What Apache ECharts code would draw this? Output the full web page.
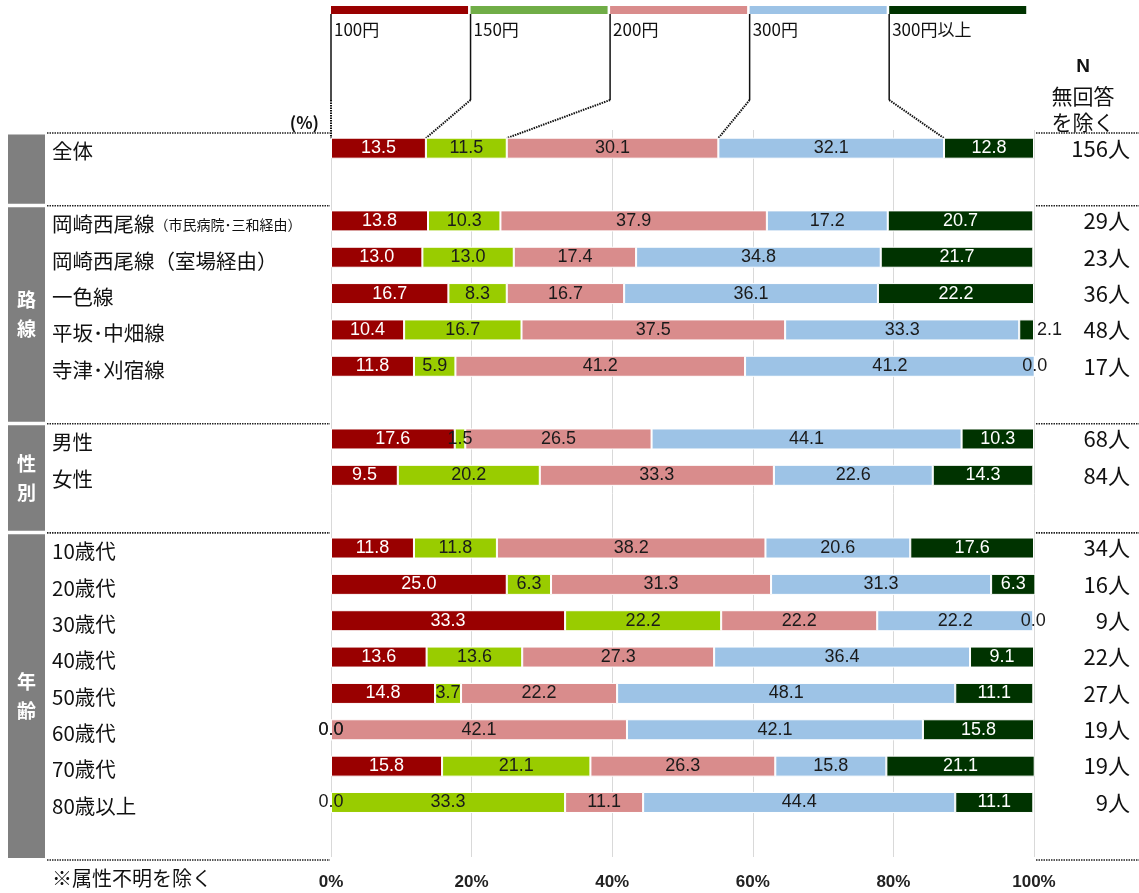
<!DOCTYPE html>
<html><head><meta charset="utf-8">
<script src="https://cdn.jsdelivr.net/npm/echarts@6/dist/echarts.min.js"></script>
<style>html,body{margin:0;padding:0;background:#fff}#c{width:1139px;height:893px}</style>
</head><body><div id="c"></div>
<script>
// ---- data ----
const categories = ['全体','','岡崎西尾線（市民病院･三和経由）','岡崎西尾線（室場経由）','一色線','平坂･中畑線','寺津･刈宿線','','男性','女性','','10歳代','20歳代','30歳代','40歳代','50歳代','60歳代','70歳代','80歳以上',''];
const nCounts = ['156人','','29人','23人','36人','48人','17人','','68人','84人','','34人','16人','9人','22人','27人','19人','19人','9人',''];
const seriesNames = ['100円','150円','200円','300円','300円以上'];
const v100  = [13.5,null,13.8,13.0,16.7,10.4,11.8,null,17.6, 9.5,null,11.8,25.0,33.3,13.6,14.8, 0.0,15.8, 0.0,null];
const v150  = [11.5,null,10.3,13.0, 8.3,16.7, 5.9,null, 1.5,20.2,null,11.8, 6.3,22.2,13.6, 3.7, 0.0,21.1,33.3,null];
const v200  = [30.1,null,37.9,17.4,16.7,37.5,41.2,null,26.5,33.3,null,38.2,31.3,22.2,27.3,22.2,42.1,26.3,11.1,null];
const v300  = [32.1,null,17.2,34.8,36.1,33.3,41.2,null,44.1,22.6,null,20.6,31.3,22.2,36.4,48.1,42.1,15.8,44.4,null];
const v300p = [12.8,null,20.7,21.7,22.2, 2.1, 0.0,null,10.3,14.3,null,17.6, 6.3, 0.0, 9.1,11.1,15.8,21.1,11.1,null];
const xTicks = [0,20,40,60,80,100];
const groups = [
  {name:'',     from:0,  to:2},
  {name:'路線', from:2,  to:8},
  {name:'性別', from:8,  to:11},
  {name:'年齢', from:11, to:20}
];
const seriesValues = [v100, v150, v200, v300, v300p];

// ---- style ----
const barColors    = ['#990000','#99CC00','#D98C8C','#9DC3E6','#003300'];
const legendColors = ['#990000','#70AD47','#D98C8C','#9DC3E6','#003300'];
const labelColors  = ['#ffffff','#1a1a1a','#1a1a1a','#1a1a1a','#ffffff'];
const dark = '#1a1a1a';
const JP = "'Noto Sans CJK JP', sans-serif";
const NUM = "'Liberation Sans', Arial, sans-serif";

const chart = echarts.init(document.getElementById('c'), null, {renderer:'canvas'});

function buildData(arr, si){
  return arr.map(v => {
    if (v == null) return '-';
    const d = {value: v};
    if (v === 0) d.label = {color: dark};
    else if (si === seriesNames.length - 1 && v < 3) d.label = {position:'right', color: dark, distance: 3};
    return d;
  });
}

const option = {
  backgroundColor:'#fff',
  animation:false,
  grid:{left:331, right:105, top:130, bottom:36, containLabel:false},
  xAxis:{
    type:'value', min:xTicks[0], max:xTicks[xTicks.length-1], interval:xTicks[1]-xTicks[0],
    axisLine:{show:false}, axisTick:{show:false},
    splitLine:{show:true, lineStyle:{color:'#d9d9d9', width:1}},
    axisLabel:{formatter: v => v + '%', fontFamily: NUM, fontWeight:'bold', fontSize:17, color:'#222', margin:17}
  },
  yAxis:[{
    type:'category', data:categories, inverse:true,
    axisLine:{show:false}, axisTick:{show:false}, splitLine:{show:false},
    axisLabel:{
      align:'left', margin:279, fontFamily: JP, fontSize:20.5, color:'#111', interval:0, padding:[7,0,0,0],
      formatter: v => {
        const i = v.indexOf('（市民');
        if (i >= 0) return '{a|' + v.slice(0,i) + '}{s|' + v.slice(i) + '}';
        return v;
      },
      rich:{ a:{fontFamily:JP, fontSize:20.5, color:'#111'}, s:{fontFamily:JP, fontSize:14, color:'#111'} }
    }
  },{
    type:'category', data:nCounts, inverse:true, position:'right',
    axisLine:{show:false}, axisTick:{show:false}, splitLine:{show:false},
    axisLabel:{align:'right', margin:96, fontFamily: JP, fontSize:22, color:'#111', interval:0, padding:[13,0,0,0]}
  }],
  series: seriesNames.map((name, si) => ({
    name, type:'bar', stack:'total', barWidth:21, clip:false, yAxisIndex:0,
    itemStyle:{color: barColors[si], borderColor:'#fff', borderWidth:1},
    label:{show:true, position:'inside', color: labelColors[si], fontFamily: NUM, fontSize:18,
      formatter: p => Number(p.value).toFixed(1)},
    data: buildData(seriesValues[si], si)
  }))
};
chart.setOption(option);

// ---- decorations computed from the axes ----
function px(x){ return chart.convertToPixel({xAxisIndex:0, yAxisIndex:0}, [x, 0])[0]; }
function py(i){ return chart.convertToPixel({xAxisIndex:0, yAxisIndex:0}, [0, i])[1]; }
const band = py(1) - py(0);
const x0 = px(0), x100 = px(100);
function boundary(i){ return py(0) + (i - 0.5) * band; }

const g = [];
const sepY = [0,2,8,11,20].map(i => boundary(i) + 3);
const dotted = {stroke:'#222', lineWidth:1.6, lineDash:[1.5,1]};
sepY.forEach(y => {
  g.push({type:'line', shape:{x1:47, y1:y, x2:x0 - 1, y2:y}, style:dotted, silent:true});
  g.push({type:'line', shape:{x1:x100 + 2, y1:y, x2:1139, y2:y}, style:dotted, silent:true});
});
groups.forEach(gr => {
  const yA = boundary(gr.from) + 4.5, yB = boundary(gr.to) + 1;
  g.push({type:'rect', shape:{x:8, y:yA, width:37, height:yB - yA}, style:{fill:'#7f7f7f'}, silent:true});
  if (gr.name) {
    g.push({type:'text', x:26.5, y:(yA + yB)/2, style:{text: gr.name.split('').join('\n'), fill:'#fff',
      font:"bold 19px 'Noto Sans CJK JP', sans-serif", lineHeight:29, align:'center', verticalAlign:'middle'}, silent:true});
  }
});

// legend with leader lines to the 全体 bar segments
const cum = [0];
for (let s = 1; s < seriesNames.length; s++) cum.push(cum[s-1] + seriesValues[s-1][0]);
const step = (x100 - x0) * 0.1985, blockW = step - 2.5;
const barTop = py(0) - 10;
seriesNames.forEach((name, si) => {
  const lx = x0 + si * step;
  g.push({type:'rect', shape:{x:lx, y:6, width:blockW, height:8}, style:{fill: legendColors[si]}, silent:true});
  g.push({type:'text', x:lx + 3, y:30, style:{text:name, fill:'#111', font:"17px 'Noto Sans CJK JP', sans-serif", verticalAlign:'middle'}, silent:true});
  g.push({type:'line', shape:{x1:lx, y1:14, x2:lx, y2:100}, style:{stroke:'#111', lineWidth:1.5}, silent:true});
  g.push({type:'line', shape:{x1:lx, y1:100, x2:px(cum[si]), y2:barTop}, style:{stroke:'#111', lineWidth:2, lineDash:[1.5,1]}, silent:true});
});

g.push({type:'text', x:x0 - 12, y:123, style:{text:'(%)', fill:'#111', font:"bold 17px 'Noto Sans CJK JP', sans-serif", align:'right', verticalAlign:'middle'}, silent:true});
g.push({type:'text', x:1083, y:67, style:{text:'N', fill:'#111', font:"bold 19px 'Liberation Sans', sans-serif", align:'center', verticalAlign:'middle'}, silent:true});
g.push({type:'text', x:1083, y:96, style:{text:'無回答', fill:'#111', font:"21px 'Noto Sans CJK JP', sans-serif", align:'center', verticalAlign:'middle'}, silent:true});
g.push({type:'text', x:1083, y:122, style:{text:'を除く', fill:'#111', font:"21px 'Noto Sans CJK JP', sans-serif", align:'center', verticalAlign:'middle'}, silent:true});
g.push({type:'text', x:52, y:878, style:{text:'※属性不明を除く', fill:'#111', font:"20px 'Noto Sans CJK JP', sans-serif", verticalAlign:'middle'}, silent:true});

chart.setOption({graphic: g});
</script></body></html>
